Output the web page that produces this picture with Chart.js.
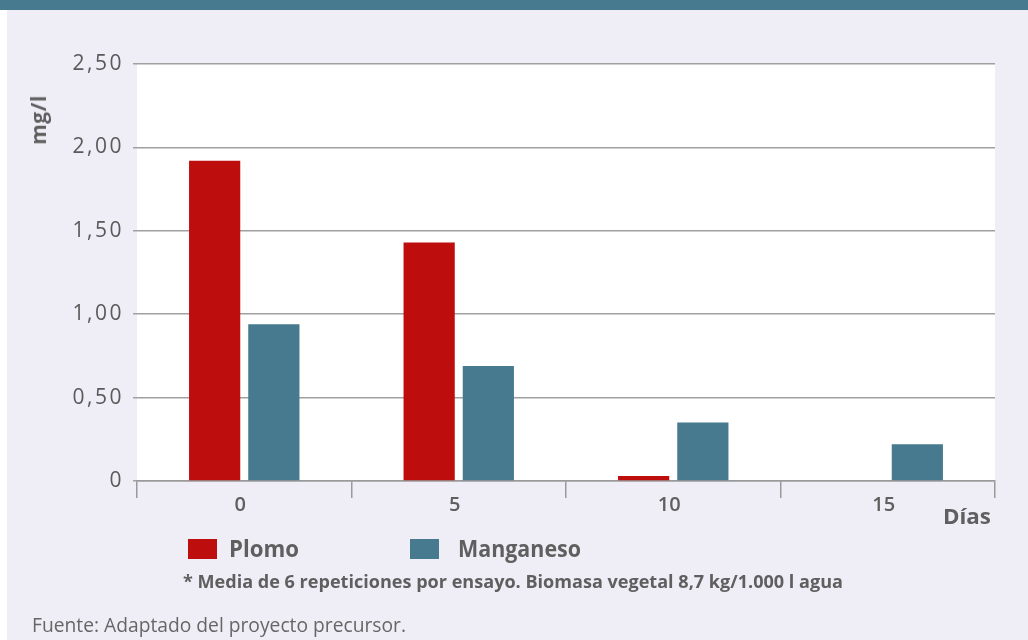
<!DOCTYPE html>
<html>
<head>
<meta charset="utf-8">
<script src="https://cdn.jsdelivr.net/npm/chart.js@4"></script>
<style>
  html, body { margin: 0; padding: 0; }
  body { width: 1028px; height: 640px; position: relative; background: #ffffff; overflow: hidden; font-family: "Open Sans", sans-serif; }
  #panel { position: absolute; left: 7px; top: 0; right: 0; bottom: 0; background: #efeef7; }
  #band { position: absolute; left: 0; top: 0; width: 1028px; height: 10px; background: #477a8e; }
  #wrap { position: absolute; left: 0; top: 0; width: 1028px; height: 640px; }
  .txt { position: absolute; color: #5f5f5f; white-space: nowrap; transform-origin: 0 50%; }
  #ylab { left: 38px; top: 120px; transform: translate(-50%, -50%) rotate(-90deg); transform-origin: 50% 50%; font-weight: 700; font-size: 21px; letter-spacing: 0.5px; }
  #xlab { left: 943px; top: 500px; font-weight: 700; font-size: 22px; }
  .sw { position: absolute; width: 29px; height: 20px; }
  .lg { font-weight: 700; font-size: 24px; top: 531px; }
  #note { left: 183px; top: 569px; font-weight: 700; font-size: 17.5px; }
  #src { left: 32px; top: 611px; font-size: 19.5px; color: #666; }
</style>
</head>
<body>
<div id="panel"></div>
<div id="band"></div>
<div id="wrap"><canvas id="c" width="1028" height="640"></canvas></div>
<div class="txt" id="ylab">mg/l</div>
<div class="txt fit" id="xlab" data-w="48">Días</div>
<div class="sw" style="left:188px; top:539px; background:#bd0d0d;"></div>
<div class="txt lg fit" style="left:229px;" data-w="70">Plomo</div>
<div class="sw" style="left:410px; top:539px; background:#477a8e;"></div>
<div class="txt lg fit" style="left:458px;" data-w="123">Manganeso</div>
<div class="txt fit" id="note" data-w="660">* Media de 6 repeticiones por ensayo. Biomasa vegetal 8,7 kg/1.000 l agua</div>
<div class="txt fit" id="src" data-w="374">Fuente: Adaptado del proyecto precursor.</div>
<script>
// Días de ensayo
const dias = ["0", "5", "10", "15"];
// Concentración (mg/l)
const plomo = [1.92, 1.43, 0.03, 0];
const manganeso = [0.94, 0.69, 0.35, 0.22];
// Etiquetas del eje vertical
const yTicks = [0, 0.5, 1.0, 1.5, 2.0, 2.5];

const fmt = v => v === 0 ? "0" : v.toFixed(2).replace(".", ",");

// Condensed look for the captions: squeeze each line to its column width
document.querySelectorAll(".fit").forEach(el => {
  const w = el.getBoundingClientRect().width;
  const target = parseFloat(el.dataset.w);
  el.style.transform = "scaleX(" + (target / w).toFixed(4) + ")";
});

const plotBg = {
  id: "plotBg",
  beforeDraw(chart) {
    const { ctx, chartArea: a } = chart;
    ctx.save();
    ctx.fillStyle = "#ffffff";
    ctx.fillRect(a.left, a.top, a.right - a.left, a.bottom - a.top);
    ctx.restore();
  }
};

// Wide, airy figures on the value axis
const spacedY = {
  id: "spacedY",
  afterLayout(chart) {
    const y = chart.scales.y;
    if (y._spaced) return;
    const orig = y.drawLabels.bind(y);
    y.drawLabels = function (area) {
      const c = this.ctx;
      c.save();
      c.letterSpacing = "2.5px";
      orig(area);
      c.restore();
    };
    y._spaced = true;
  }
};

new Chart(document.getElementById("c"), {
  type: "bar",
  data: {
    labels: dias,
    datasets: [
      { label: "Plomo", data: plomo, backgroundColor: "#bd0d0d", categoryPercentage: 0.552, barPercentage: 0.865 },
      { label: "Manganeso", data: manganeso, backgroundColor: "#477a8e", categoryPercentage: 0.552, barPercentage: 0.865 }
    ]
  },
  options: {
    responsive: false,
    animation: false,
    devicePixelRatio: 1,
    layout: { padding: { left: 0, top: 64, right: 33, bottom: 0 } },
    plugins: { legend: { display: false }, tooltip: { enabled: false } },
    scales: {
      x: {
        grid: { display: true, drawOnChartArea: false, drawTicks: true, tickLength: 17, color: "#9a9a9a", lineWidth: 1.5, offset: true },
        border: { display: true, color: "#9a9a9a", width: 1.5 },
        ticks: { color: "#5f5f5f", font: { family: "Open Sans", size: 20, weight: "600" }, padding: -5, labelOffset: -4 },
        afterFit(s) { s.height = 159; }
      },
      y: {
        min: 0, max: 2.5,
        afterBuildTicks(s) { s.ticks = yTicks.map(v => ({ value: v })); },
        grid: { color: "#a0a0a0", lineWidth: 1.5, tickLength: 4, drawTicks: true },
        border: { display: false },
        ticks: { color: "#5a5a5a", font: { family: "Open Sans", size: 21, weight: "400" }, padding: 9, callback: v => fmt(v) },
        afterFit(s) { s.width = 137; }
      }
    }
  },
  plugins: [plotBg, spacedY]
});
</script>
</body>
</html>
